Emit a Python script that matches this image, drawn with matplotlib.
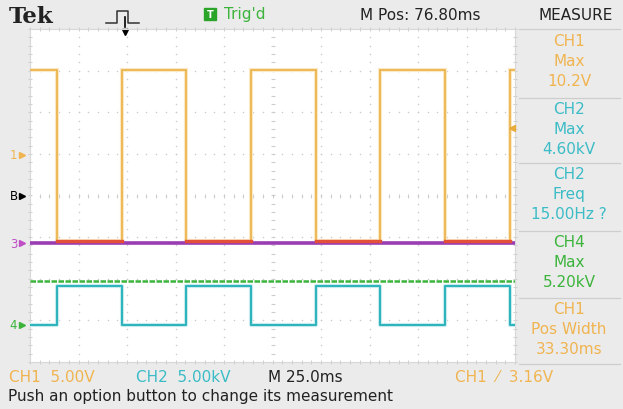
import numpy as np
import matplotlib.pyplot as plt

# horizontal / vertical graticule
TIME_PER_DIV = 25.0  # ms per division
N_HDIV = 10
N_VDIV = 8

# CH1 switching edges [ms], trace starts high
ch1_edges = [14.0, 47.3, 80.6, 114.0, 147.3, 180.6, 214.0, 247.3]
ch1_high, ch1_low = 10.2, -10.4  # [V]
ch1_scale = 5.0    # V/div
ch1_offset = 0.98  # div
trig_level = 3.16  # V
trig_time = 48.8   # ms

# CH2 runs opposite to CH1
ch2_high, ch2_low = 4.6, 0.0  # [kV]
ch2_scale = 5.0
ch2_offset = -3.1

ch3_level = 0.0
ch3_offset = -1.15

ch4_level = 5.2  # [kV]
ch4_scale = 5.0
ch4_offset = -3.1

ref_b_offset = 0.0

meas_ch = ["CH1", "CH2", "CH2", "CH4", "CH1"]
meas_name = ["Max", "Max", "Freq", "Max", "Pos Width"]
meas_value = ["10.2V", "4.60kV", "15.00Hz ?", "5.20kV", "33.30ms"]

ORANGE = "#e8ab3c"
ORANGE_TXT = "#f0b450"
CYAN = "#2fb4bd"
CYAN_TXT = "#3bbcc6"
GREEN = "#3cb43c"
PURPLE = "#9a3db3"
MAGENTA = "#c04fc8"
RED = "#e2503a"
BG = "#ebebeb"
CH_COLOR = {"CH1": ORANGE_TXT, "CH2": CYAN_TXT, "CH4": GREEN}

W, H = 623, 410
T_END = TIME_PER_DIV * N_HDIV
FS = 11


def square_trace(edges, start_high, hi, lo):
    t = [0.0]
    v = [hi if start_high else lo]
    state = start_high
    for e in edges:
        cur = hi if state else lo
        nxt = lo if state else hi
        t += [e, e]
        v += [cur, nxt]
        state = not state
    t.append(T_END)
    v.append(v[-1])
    return np.array(t), np.array(v)


fig = plt.figure(figsize=(W / 100, H / 100), dpi=100, facecolor=BG)

# full-figure layer in pixel units for the frame decorations
deco = fig.add_axes([0, 0, 1, 1], zorder=0)
deco.set_xlim(0, W)
deco.set_ylim(H, 0)
deco.axis("off")

# graticule
gx0, gx1, gy0, gy1 = 30, 515, 30, 363
ax = fig.add_axes([gx0 / W, (H - gy1) / H, (gx1 - gx0) / W, (gy1 - gy0) / H], zorder=1)
ax.set_facecolor("white")
ax.set_xlim(0, T_END)
ax.set_ylim(-N_VDIV / 2, N_VDIV / 2)
ax.set_xticks([])
ax.set_yticks([])
for s in ax.spines.values():
    s.set_color("#d8d8d8")
    s.set_linewidth(0.8)

minor_t = np.arange(0, T_END + 0.01, TIME_PER_DIV / 5)
minor_v = np.arange(-N_VDIV / 2, N_VDIV / 2 + 0.01, 0.2)
for i in range(1, N_HDIV):
    ax.scatter(np.full_like(minor_v, i * TIME_PER_DIV), minor_v, s=1.2, c="#cccccc", lw=0, zorder=1)
for j in range(-N_VDIV // 2 + 1, N_VDIV // 2):
    ax.scatter(minor_t, np.full_like(minor_t, j), s=1.2, c="#cccccc", lw=0, zorder=1)
# tick marks on the centre lines and borders
for y in (N_VDIV / 2, 0, -N_VDIV / 2):
    ax.scatter(minor_t, np.full_like(minor_t, y), marker="|", s=8, c="#cdcdcd", lw=0.7, zorder=1, clip_on=False)
for x in (0, T_END / 2, T_END):
    ax.scatter(np.full_like(minor_v, x), minor_v, marker="_", s=8, c="#cdcdcd", lw=0.7, zorder=1, clip_on=False)

# CH1
t1, v1 = square_trace(ch1_edges, True, ch1_high, ch1_low)
y1 = ch1_offset + v1 / ch1_scale
ax.plot(t1, y1, color="#fbe8c4", lw=3.0, zorder=2, solid_joinstyle="miter")
ax.plot(t1, y1, color=ORANGE, lw=1.1, zorder=3, solid_joinstyle="miter")

# CH3 flat line, CH1 low level sits on top of it
ax.plot([0, T_END], [ch3_offset + ch3_level, ch3_offset + ch3_level], color=PURPLE, lw=2.6, zorder=4)
y1_low = np.where(v1 == ch1_low, y1, np.nan)
ax.plot(t1, y1_low, color=RED, lw=2.4, zorder=5)

# CH4 level
ax.plot([0, T_END], [ch4_offset + ch4_level / ch4_scale] * 2, color=GREEN, lw=1.8,
        ls=(0, (2.2, 0.6)), zorder=4)

# CH2
t2, v2 = square_trace(ch1_edges, False, ch2_high, ch2_low)
y2 = ch2_offset + v2 / ch2_scale
ax.plot(t2, y2, color="#cdeff1", lw=3.0, zorder=4)
ax.plot(t2, y2, color=CYAN, lw=1.5, zorder=5)

# channel ground markers on the left edge
lx = ax.get_yaxis_transform()
markers = [("1", ch1_offset, ORANGE_TXT), ("B", ref_b_offset, "black"),
           ("3", ch3_offset, MAGENTA), ("4", ch4_offset, GREEN)]
for lab, off, col in markers:
    ax.text(-0.034, off, lab, transform=lx, color=col, fontsize=8.5, ha="center", va="center",
            clip_on=False)
    ax.plot([-0.016], [off], marker=">", ms=4, color=col, transform=lx, clip_on=False)

# trigger level and position
ax.plot([0.993], [ch1_offset + trig_level / ch1_scale], marker="<", ms=5, color=ORANGE,
        transform=lx, clip_on=False, zorder=6)
tx = ax.get_xaxis_transform()
ax.plot([trig_time, trig_time], [1.005, 1.035], color="black", lw=1.2, transform=tx, clip_on=False)
ax.plot([trig_time], [0.99], marker="v", ms=5, color="black", transform=tx, clip_on=False)

# top bar
deco.text(9, 17, "Tek", fontsize=16.5, fontweight="bold", family="DejaVu Serif", va="center", color="#222222")
deco.plot([106, 117, 117, 128, 128, 139], [24, 24, 12, 12, 24, 24], color="#333333", lw=1.1)
deco.add_patch(plt.Rectangle((204, 9), 12, 12, color="#2aa52a"))
deco.text(210, 15.5, "T", color="white", fontsize=7, fontweight="bold", ha="center", va="center")
deco.text(224, 15, "Trig'd", color=GREEN, fontsize=FS, va="center")
deco.text(360, 15, "M Pos: 76.80ms", color="#222222", fontsize=FS, va="center")
deco.text(576, 16, "MEASURE", color="#222222", fontsize=FS, ha="center", va="center")

# measurement panel
for yb in [30, 99, 164, 232, 299, 365]:
    deco.plot([519, 620], [yb, yb], color="#cdcdcd", lw=0.9)
row_tops = [30, 99, 164, 232, 299]
for k, top in enumerate(row_tops):
    col = CH_COLOR[meas_ch[k]]
    deco.text(569, top + 11, meas_ch[k], color=col, fontsize=FS, ha="center", va="center")
    deco.text(569, top + 31, meas_name[k], color=col, fontsize=FS, ha="center", va="center")
    deco.text(569, top + 51, meas_value[k], color=col, fontsize=FS, ha="center", va="center")

# bottom status lines
deco.text(9, 378, "CH1  5.00V", color=ORANGE_TXT, fontsize=FS, va="center")
deco.text(136, 378, "CH2  5.00kV", color=CYAN_TXT, fontsize=FS, va="center")
deco.text(268, 378, "M 25.0ms", color="#222222", fontsize=FS, va="center")
deco.text(455, 378, "CH1  \u2044  3.16V", color=ORANGE_TXT, fontsize=FS, va="center")
deco.text(8, 397, "Push an option button to change its measurement", color="#222222",
          fontsize=FS, va="center")

fig.savefig("out.png", dpi=100, facecolor=BG)
